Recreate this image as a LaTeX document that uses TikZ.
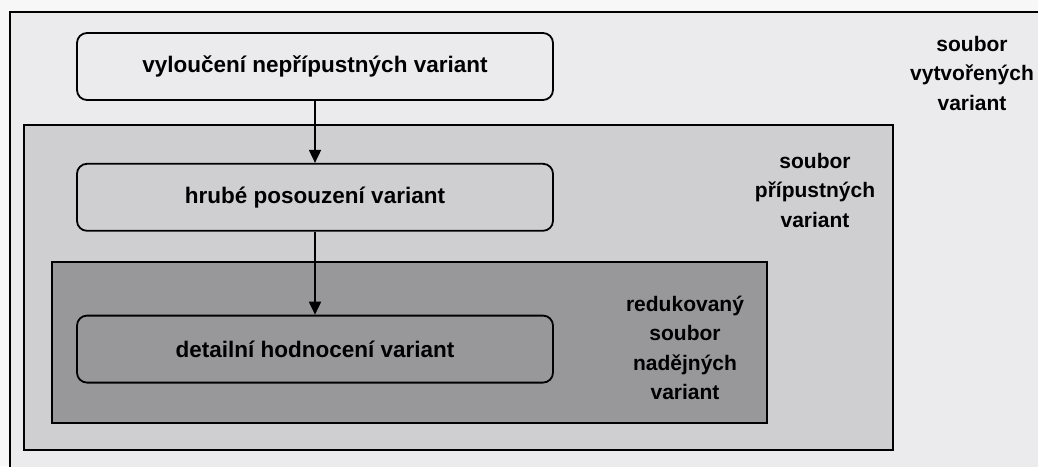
\documentclass[tikz,border=0pt]{standalone}
\usepackage{fontspec}
\setmainfont{Liberation Sans}
\usetikzlibrary{positioning,arrows.meta}
\definecolor{setall}{RGB}{235,235,237}
\definecolor{setok}{RGB}{207,207,210}
\definecolor{sethope}{RGB}{152,152,155}
\tikzset{
  stage/.style={draw, line width=1.8pt, rounded corners=10pt, minimum width=476pt,
    minimum height=67pt, font=\bfseries\fontsize{22.5}{27}\selectfont},
  setlabel/.style={align=center, font=\bfseries\fontsize{21}{29.5}\selectfont},
  setframe/.style={draw, line width=1.8pt},
  flow/.style={-{Triangle[width=12pt,length=13pt]}, line width=1.8pt}
}
\begin{document}
\begin{tikzpicture}[x=1pt,y=-1pt]

    \clip (0,0) rectangle (1038,466);
    \fill[white!60!setall] (0,0) rectangle (1038,466);

    % sets of variants
    \draw[setframe, fill=setall] (10,12) rectangle (1060,490);
    \draw[setframe, fill=setok] (24,125) rectangle (893,450);
    \draw[setframe, fill=sethope] (52,262) rectangle (767,423);

    % stages
    \node[stage] (exclude) at (315,66.5) {vyloučení nepřípustných variant};
    \node[stage, below=62pt of exclude] (rough) {hrubé posouzení variant};
    \node[stage, below=83pt of rough] (detail) {detailní hodnocení variant};

    \draw[flow] (exclude) -- (rough);
    \draw[flow] (rough) -- (detail);

    \node[setlabel] (allvar) at (972,73) {soubor\\vytvořených\\variant};
    \node[setlabel] (okvar) at (815,190) {soubor\\přípustných\\variant};
    \node[setlabel] (hopevar) at (685,348) {redukovaný\\soubor\\nadějných\\variant};

  \end{tikzpicture}
\end{document}
